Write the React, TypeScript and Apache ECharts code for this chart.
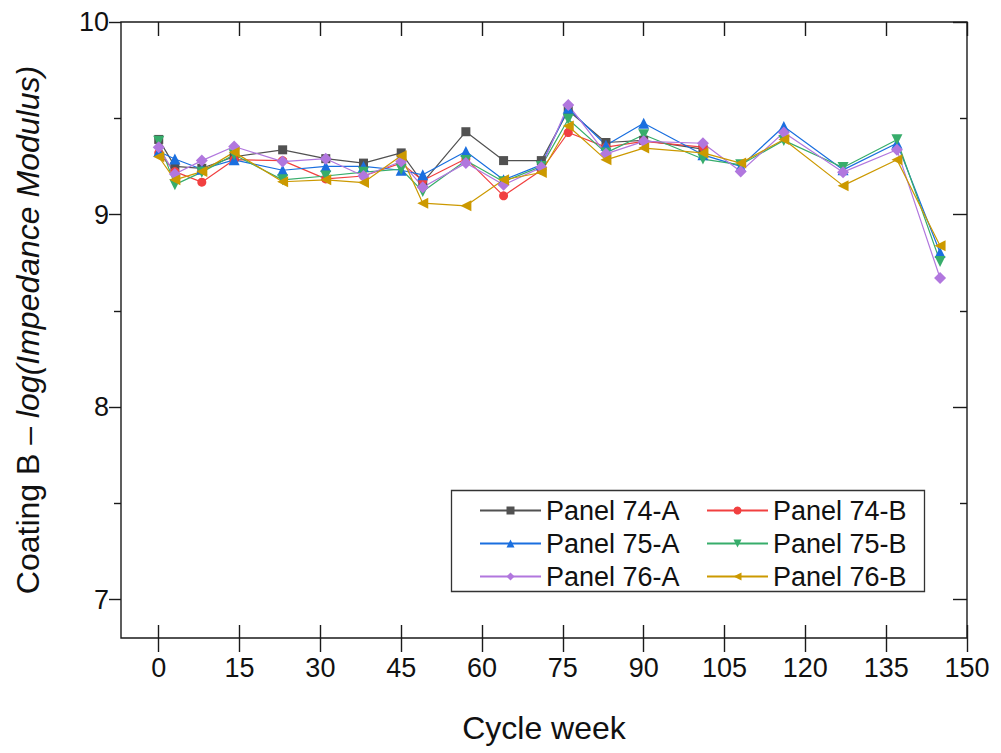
import React, { useEffect, useRef } from "react";
import * as echarts from "echarts";

const weeks = [0, 3, 8, 14, 23, 31, 38, 45, 49, 57, 64, 71, 76, 83, 90, 101, 108, 116, 127, 137, 145];

const panel74A = [9.39, 9.25, 9.24, 9.3, 9.336, 9.29, 9.267, 9.32, 9.165, 9.43, 9.28, 9.28, 9.54, 9.374, 9.385, 9.34];
const panel74B = [9.32, 9.223, 9.168, 9.285, 9.28, 9.185, 9.2, 9.267, 9.177, 9.29, 9.097, 9.23, 9.426, 9.35, 9.38, 9.35];
const panel75A = [9.327, 9.288, 9.235, 9.284, 9.23, 9.25, 9.25, 9.23, 9.206, 9.327, 9.18, 9.258, 9.552, 9.36, 9.474, 9.31, 9.25, 9.457, 9.232, 9.37, 8.803];
const panel75B = [9.38, 9.155, 9.22, 9.31, 9.18, 9.2, 9.22, 9.235, 9.12, 9.28, 9.17, 9.25, 9.495, 9.32, 9.414, 9.288, 9.258, 9.385, 9.244, 9.388, 8.756];
const panel76A = [9.35, 9.21, 9.28, 9.353, 9.275, 9.29, 9.2, 9.275, 9.142, 9.267, 9.154, 9.245, 9.569, 9.315, 9.38, 9.37, 9.223, 9.426, 9.22, 9.336, 8.67];
const panel76B = [9.3, 9.18, 9.223, 9.324, 9.17, 9.18, 9.166, 9.305, 9.059, 9.045, 9.18, 9.218, 9.46, 9.284, 9.345, 9.32, 9.267, 9.39, 9.15, 9.284, 8.838];

const xTicks = [0, 15, 30, 45, 60, 75, 90, 105, 120, 135, 150];
const yTicks = [7, 8, 9, 10];
const yMinorTicks = [7.5, 8.5, 9.5];

const seriesDefs = [
  { name: "Panel 74-A", values: panel74A, color: "#515151", symbol: "rect", size: 9, rotate: 0 },
  { name: "Panel 74-B", values: panel74B, color: "#F14040", symbol: "circle", size: 9, rotate: 0 },
  { name: "Panel 75-A", values: panel75A, color: "#1A6FDF", symbol: "triangle", size: 11, rotate: 0 },
  { name: "Panel 75-B", values: panel75B, color: "#37AD6B", symbol: "triangle", size: 11, rotate: 180 },
  { name: "Panel 76-A", values: panel76A, color: "#B177DE", symbol: "diamond", size: 12, rotate: 0 },
  { name: "Panel 76-B", values: panel76B, color: "#CC9900", symbol: "triangle", size: 11, rotate: 90 },
];

const FONT = "Liberation Sans, Arial, sans-serif";
const AX = "#1a1a1a";

export default function App() {
  const ref = useRef<HTMLDivElement>(null);
  useEffect(() => {
    if (!ref.current) return;
    const chart = echarts.init(ref.current, undefined, { renderer: "svg" });
    const lineStyle = { color: AX, width: 1.4 };
    const noLine = { show: false, onZero: false };
    const xBase = { type: "value", min: -7, max: 150, splitLine: { show: false }, axisLine: noLine };
    const yBase = { type: "value", min: 6.8, max: 10, splitLine: { show: false }, axisLine: noLine };
    const option: any = {
      animation: false,
      backgroundColor: "#fff",
      grid: {
        left: 121,
        top: 22,
        right: 34,
        bottom: 115,
        containLabel: false,
        show: true,
        borderColor: AX,
        borderWidth: 1.4,
        backgroundColor: "transparent",
      },
      xAxis: [
        {
          ...xBase,
          position: "bottom",
          offset: -13,
          axisTick: { show: true, inside: false, length: 27, customValues: xTicks, lineStyle },
          axisLabel: { customValues: xTicks, fontSize: 27, color: "#111", margin: 29, fontFamily: FONT },
          name: "Cycle week",
          nameLocation: "middle",
          nameGap: 87,
          nameTextStyle: { fontSize: 32, color: "#111", fontFamily: FONT },
        },
        {
          ...xBase,
          position: "top",
          axisTick: { show: true, inside: true, length: 14, customValues: xTicks, lineStyle },
          axisLabel: { show: false },
        },
      ],
      yAxis: [
        {
          ...yBase,
          position: "left",
          axisTick: { show: true, inside: false, length: 12, customValues: yTicks, lineStyle },
          axisLabel: { customValues: yTicks, fontSize: 27, color: "#111", margin: 12, fontFamily: FONT },
          name: "{a|Coating B – }{b|log(Impedance Modulus)}",
          nameLocation: "middle",
          nameGap: 77,
          nameRotate: 90,
          nameTextStyle: {
            fontSize: 32,
            color: "#111",
            fontFamily: FONT,
            rich: {
              a: { fontSize: 32, color: "#111", fontFamily: FONT },
              b: { fontSize: 32, color: "#111", fontFamily: FONT, fontStyle: "italic" },
            },
          },
        },
        {
          ...yBase,
          position: "left",
          axisTick: { show: true, inside: false, length: 7, customValues: yMinorTicks, lineStyle },
          axisLabel: { show: false },
        },
        {
          ...yBase,
          position: "right",
          axisTick: { show: true, inside: true, length: 14, customValues: yTicks, lineStyle },
          axisLabel: { show: false },
        },
        {
          ...yBase,
          position: "right",
          axisTick: { show: true, inside: true, length: 7, customValues: yMinorTicks, lineStyle },
          axisLabel: { show: false },
        },
      ],
      graphic: [
        {
          type: "rect",
          z: 1,
          shape: { x: 451.5, y: 490.5, width: 473, height: 101 },
          style: { fill: "#fff", stroke: "#333", lineWidth: 1.3 },
        },
      ],
      legend: [
        {
          orient: "vertical",
          left: 474,
          top: 492,
          itemWidth: 61,
          itemHeight: 10,
          itemGap: 6,
          selectedMode: false,
          data: ["Panel 74-A", "Panel 75-A", "Panel 76-A"],
          textStyle: { fontSize: 27, color: "#111", fontFamily: FONT, lineHeight: 27 },
        },
        {
          orient: "vertical",
          left: 701,
          top: 492,
          itemWidth: 61,
          itemHeight: 10,
          itemGap: 6,
          selectedMode: false,
          data: ["Panel 74-B", "Panel 75-B", "Panel 76-B"],
          textStyle: { fontSize: 27, color: "#111", fontFamily: FONT, lineHeight: 27 },
        },
      ],
      series: seriesDefs.map((s) => ({
        name: s.name,
        type: "line",
        xAxisIndex: 0,
        yAxisIndex: 0,
        data: s.values.map((v, i) => [weeks[i], v]),
        symbol: s.symbol,
        symbolSize: s.size,
        symbolRotate: s.rotate,
        showAllSymbol: true,
        lineStyle: { color: s.color, width: 1.2 },
        itemStyle: { color: s.color },
        emphasis: { disabled: true },
      })),
    };
    chart.setOption(option);
    return () => chart.dispose();
  }, []);
  return (
    <div
      ref={ref}
      style={{ position: "fixed", left: 0, top: 0, width: 1001, height: 753, background: "#fff" }}
    />
  );
}
